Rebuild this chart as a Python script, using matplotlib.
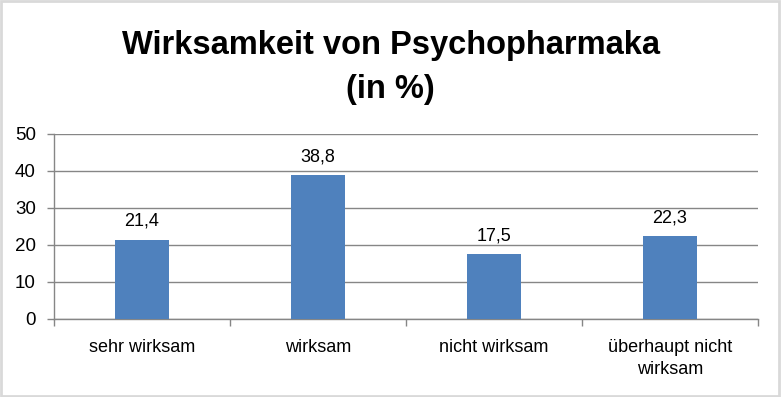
import matplotlib
matplotlib.use('Agg')
import matplotlib.pyplot as plt
from matplotlib.patches import Rectangle
import numpy as np

##### data
categories = ['sehr wirksam', 'wirksam', 'nicht wirksam', 'überhaupt nicht\nwirksam']
values = [21.4, 38.8, 17.5, 22.3]
value_labels = ['21,4', '38,8', '17,5', '22,3']
yticks = [0, 10, 20, 30, 40, 50]

plt.rcParams['font.family'] = ['Liberation Sans', 'DejaVu Sans']

fig = plt.figure(figsize=(7.81, 3.97), dpi=100)
ax = fig.add_axes([0.0691, 0.1977, 0.9015, 0.4648])

x = np.arange(len(categories))
ax.bar(x, values, width=0.31, color='#4F81BD', zorder=3)
for xi, v, lab in zip(x, values, value_labels):
    ax.annotate(lab, (xi, v), xytext=(0, 7), textcoords='offset points',
                ha='center', va='bottom', fontsize=13, color='black')

ax.set_xlim(-0.5, len(categories) - 0.5)
ax.set_ylim(0, 50)
ax.set_yticks(yticks)
ax.set_yticklabels([str(t) for t in yticks], fontsize=13.5)
ax.set_xticks(x)
ax.set_xticklabels(categories, fontsize=13, linespacing=1.35)
ax.set_xticks(np.arange(-0.5, len(categories)), minor=True)
ax.tick_params(axis='x', which='major', length=0, pad=15)
ax.tick_params(axis='x', which='minor', length=5, color='#868686', width=1)
ax.tick_params(axis='y', length=5, color='#868686', width=1, pad=8)

ax.grid(axis='y', color='#868686', linewidth=1, zorder=0)
for s in ['top', 'right']:
    ax.spines[s].set_visible(False)
for s in ['left', 'bottom']:
    ax.spines[s].set_color('#868686')
    ax.spines[s].set_linewidth(1)

fig.text(0.5, 0.885, 'Wirksamkeit von Psychopharmaka', ha='center', va='center',
         fontsize=23.5, fontweight='bold')
fig.text(0.5, 0.775, '(in %)', ha='center', va='center', fontsize=23.5, fontweight='bold')

# chart border
fig.patches.append(Rectangle((0.001, 0.002), 0.997, 0.995, transform=fig.transFigure,
                             fill=False, edgecolor='#D9D9D9', linewidth=2))

fig.savefig('out.png', dpi=100)
